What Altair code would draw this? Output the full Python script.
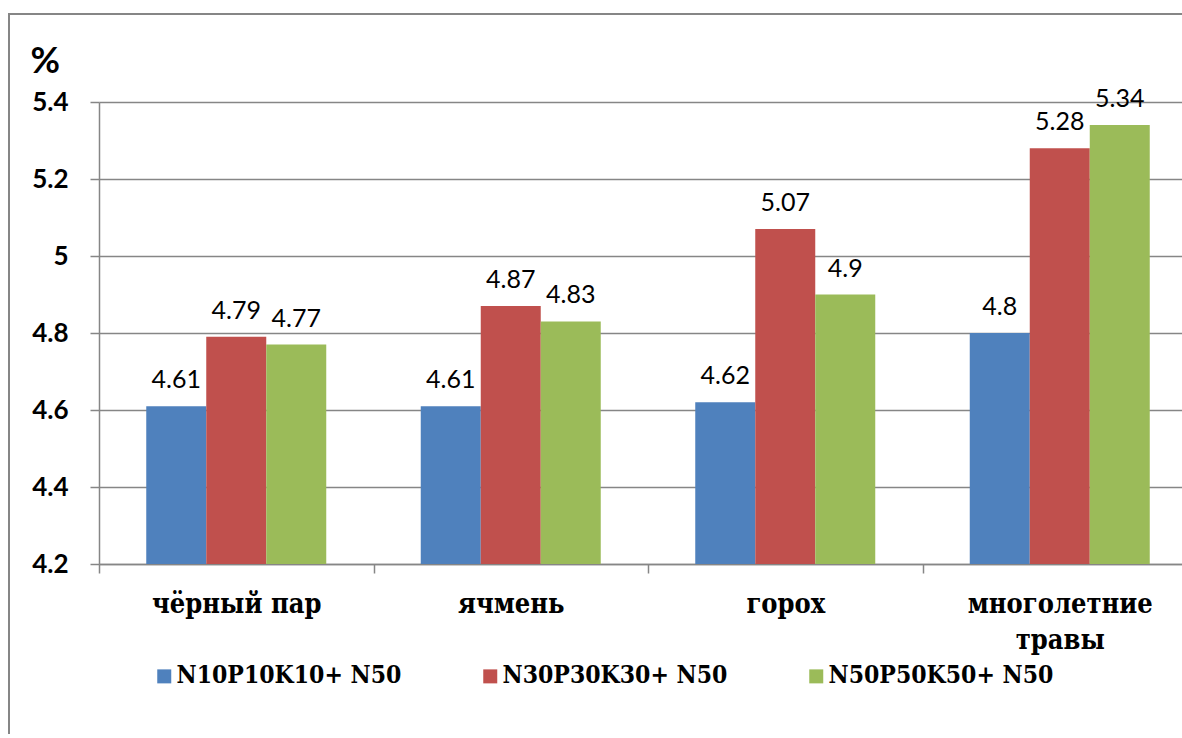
import altair as alt
import pandas as pd

# Crops (x categories) and fertiliser treatments (series)
crops = ["чёрный пар", "ячмень", "горох", "многолетние травы"]
treatments = ["N10P10K10+ N50", "N30P30K30+ N50", "N50P50K50+ N50"]

# Values, %, one list per treatment in crop order
values_n10 = [4.61, 4.61, 4.62, 4.80]
values_n30 = [4.79, 4.87, 5.07, 5.28]
values_n50 = [4.77, 4.83, 4.90, 5.34]

colors = ["#4F81BD", "#C0504D", "#9BBB59"]
y_ticks = [4.2, 4.4, 4.6, 4.8, 5.0, 5.2, 5.4]
y_base = 4.2

rows = []
for t, vals in zip(treatments, [values_n10, values_n30, values_n50]):
    for c, v in zip(crops, vals):
        rows.append({"crop": c, "treatment": t, "value": v})
df = pd.DataFrame(rows)

GRAY = "#868686"
SERIF = "DejaVu Serif Condensed"

x_enc = alt.X(
    "crop:N",
    sort=crops,
    # the last category band runs past the right edge of the figure
    scale=alt.Scale(paddingInner=0, paddingOuter=0, range=[0, 1098]),
    axis=alt.Axis(
        title=None,
        labelAngle=0,
        tickBand="extent",
        tickSize=9,
        tickWidth=1.5,
        tickColor=GRAY,
        domainColor=GRAY,
        domainWidth=1.5,
        labelFont=SERIF,
        labelFontWeight="bold",
        labelFontSize=27,
        labelColor="black",
        labelPadding=18,
        labelLimit=400,
        labelLineHeight=36,
        labelExpr="datum.label == 'многолетние травы' ? ['многолетние', 'травы'] : datum.label",
    ),
)

y_enc = alt.Y(
    "value:Q",
    scale=alt.Scale(domain=[4.2, 5.4], zero=False, nice=False),
    axis=alt.Axis(
        values=y_ticks,
        format=".1~f",
        title="%",
        titleAngle=0,
        titleX=-69,
        titleY=-30,
        titleAlign="left",
        titleBaseline="alphabetic",
        titleFont="Lato",
        titleFontWeight="bold",
        titleFontSize=36,
        titleColor="black",
        labelFont="Lato",
        labelFontWeight="bold",
        labelFontSize=26,
        labelColor="black",
        labelPadding=22,
        tickSize=9,
        tickWidth=1.5,
        tickColor=GRAY,
        domainColor=GRAY,
        domainWidth=1.5,
        grid=True,
        gridColor=GRAY,
        gridWidth=1.5,
    ),
)

x_off = alt.XOffset(
    "treatment:N",
    sort=treatments,
    scale=alt.Scale(paddingInner=0, paddingOuter=0.7875),
)

bars = alt.Chart(df).mark_bar().encode(
    x=x_enc,
    y=y_enc,
    y2=alt.datum(y_base),
    xOffset=x_off,
    color=alt.Color(
        "treatment:N",
        sort=treatments,
        scale=alt.Scale(domain=treatments, range=colors),
        legend=alt.Legend(
            title=None,
            orient="none",
            direction="horizontal",
            legendX=53,
            legendY=562,
            symbolType="square",
            symbolSize=196,
            symbolStrokeWidth=0,
            symbolOpacity=1,
            labelFont=SERIF,
            labelFontWeight="bold",
            labelFontSize=24.5,
            labelColor="black",
            labelLimit=400,
            labelOffset=0,
            columnPadding=76,
            padding=0,
        ),
    ),
)

labels = alt.Chart(df).mark_text(
    dy=-18, baseline="alphabetic", font="Lato", fontSize=25, color="black"
).encode(
    x=alt.X("crop:N", sort=crops),
    y=alt.Y("value:Q"),
    xOffset=alt.XOffset("treatment:N", sort=treatments),
    text=alt.Text("value:Q", format=".2~f"),
)

# Frame around the whole figure
frame = alt.Chart(pd.DataFrame({"k": [0]})).mark_rect(
    fillOpacity=0, stroke=GRAY, strokeWidth=2
).encode(
    x=alt.value(-90), x2=alt.value(1300), y=alt.value(-88), y2=alt.value(900)
)

chart = (
    alt.layer(frame, bars, labels)
    .properties(
        width=1083,
        height=462,
        autosize=alt.AutoSizeParams(type="none"),
        padding={"left": 99, "top": 102, "right": 0, "bottom": 170},
        background="white",
    )
    .configure_view(stroke=None)
)

chart.save("out.html", embed_options={"renderer": "svg", "actions": False})
